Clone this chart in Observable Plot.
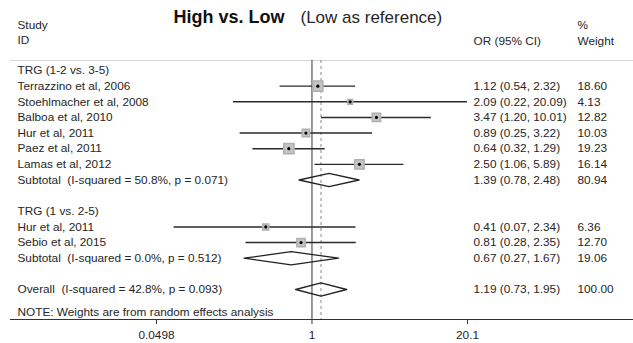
<!DOCTYPE html>
<html>
<head>
<meta charset="utf-8">
<script src="https://cdn.jsdelivr.net/npm/d3@7"></script>
<script src="https://cdn.jsdelivr.net/npm/@observablehq/plot@0.6"></script>
<style>
  html, body { margin: 0; padding: 0; background: #fff; }
</style>
</head>
<body>
<div id="chart"></div>
<script>
// ---- data ----
const groupLabels = ["TRG (1-2 vs. 3-5)", "TRG (1 vs. 2-5)"];
const studyNames = ["Terrazzino et al, 2006", "Stoehlmacher et al, 2008", "Balboa et al, 2010", "Hur et al, 2011", "Paez et al, 2011", "Lamas et al, 2012", "Hur et al, 2011", "Sebio et al, 2015"];
const studyGroup = [0, 0, 0, 0, 0, 0, 1, 1];
const studyOR = [1.12, 2.09, 3.47, 0.89, 0.64, 2.50, 0.41, 0.81];
const studyLo = [0.54, 0.22, 1.20, 0.25, 0.32, 1.06, 0.07, 0.28];
const studyHi = [2.32, 20.09, 10.01, 3.22, 1.29, 5.89, 2.34, 2.35];
const studyWeight = [18.60, 4.13, 12.82, 10.03, 19.23, 16.14, 6.36, 12.70];

const subtotalLabels = ["Subtotal  (I-squared = 50.8%, p = 0.071)", "Subtotal  (I-squared = 0.0%, p = 0.512)"];
const subtotalOR = [1.39, 0.67];
const subtotalLo = [0.78, 0.27];
const subtotalHi = [2.48, 1.67];
const subtotalWeight = [80.94, 19.06];

const overallLabel = "Overall  (I-squared = 42.8%, p = 0.093)";
const overallOR = 1.19, overallLo = 0.73, overallHi = 1.95, overallWeight = 100.00;

const noteText = "NOTE: Weights are from random effects analysis";
const tickValues = [0.0498, 1, 20.1];
const tickLabels = ["0.0498", "1", "20.1"];
const titleBold = "High vs. Low";
const titleRest = "(Low as reference)";

// ---- build row order ----
let row = 0;
const headers = [], studies = [], pooled = [];
groupLabels.forEach((g, gi) => {
  row += 1; headers.push({label: g, row});
  studyNames.forEach((s, i) => {
    if (studyGroup[i] !== gi) return;
    row += 1;
    studies.push({label: s, or: studyOR[i], lo: studyLo[i], hi: studyHi[i], weight: studyWeight[i], row});
  });
  row += 1;
  pooled.push({label: subtotalLabels[gi], or: subtotalOR[gi], lo: subtotalLo[gi], hi: subtotalHi[gi], weight: subtotalWeight[gi], row});
  row += 1; // blank spacer row
});
row += 1;
pooled.push({label: overallLabel, or: overallOR, lo: overallLo, hi: overallHi, weight: overallWeight, row});
const lastRow = row;

const allRows = [...headers, ...studies, ...pooled];
const estRows = [...studies, ...pooled];

const dh = 0.42;
const diamonds = pooled.flatMap((d, i) => [
  {x: d.lo, y: d.row, k: i},
  {x: d.or, y: d.row - dh, k: i},
  {x: d.hi, y: d.row, k: i},
  {x: d.or, y: d.row + dh, k: i},
  {x: d.lo, y: d.row, k: i}
]);

const fmt = v => v.toFixed(2);
const ink = "#262626";
const hdr = {textAnchor: "start", lineAnchor: "middle", fill: ink};

const chart = Plot.plot({
  width: 633,
  height: 343,
  marginLeft: 10,
  marginRight: 0,
  marginTop: 60,
  marginBottom: 24,
  style: {fontFamily: "'Liberation Sans', Arial, sans-serif", fontSize: "11.8px", color: ink, background: "#fff"},
  x: {type: "log", domain: [tickValues[0], tickValues[2]], range: [156, 467]},
  y: {domain: [1, lastRow], range: [70, 289], axis: null},
  r: {type: "sqrt", domain: [0, 100], range: [0, 13.2]},
  marks: [
    Plot.frame({anchor: "top", stroke: "#d8d8d8"}),
    Plot.frame({anchor: "bottom", stroke: "#333"}),
    Plot.ruleX([1], {stroke: "#333", strokeWidth: 1}),
    Plot.ruleX([overallOR], {stroke: "#888", strokeWidth: 1, strokeDasharray: "3,3"}),
    Plot.ruleY(studies, {y: "row", x1: "lo", x2: "hi", stroke: "#2a2a2a", strokeWidth: 1.4}),
    Plot.dot(studies, {x: "or", y: "row", r: "weight", symbol: "square", fill: "#c4c4c4", stroke: "#b0b0b0"}),
    Plot.dot(studies, {x: "or", y: "row", r: 1.6, fill: "#000"}),
    Plot.line(diamonds, {x: "x", y: "y", z: "k", stroke: "#222", strokeWidth: 1.3, curve: "linear"}),
    Plot.axisX({ticks: tickValues, tickFormat: () => "", tickSize: 5, label: null, stroke: "#333"}),
    Plot.text(tickValues, {x: d => d, text: (d, i) => tickLabels[i], frameAnchor: "bottom", dy: 16, lineAnchor: "middle", textAnchor: "middle", fill: ink}),
    // left labels
    Plot.text(allRows, {y: "row", text: "label", frameAnchor: "left", dx: 7, ...hdr}),
    Plot.text([noteText], {text: d => d, frameAnchor: "bottom-left", dx: 7, dy: -7, ...hdr}),
    // right columns
    Plot.text(estRows, {y: "row", text: d => `${fmt(d.or)} (${fmt(d.lo)}, ${fmt(d.hi)})`, frameAnchor: "right", dx: -160, ...hdr}),
    Plot.text(estRows, {y: "row", text: d => fmt(d.weight), frameAnchor: "right", dx: -56, ...hdr}),
    // headers
    Plot.text(["Study"], {text: d => d, frameAnchor: "top-left", dx: 7, dy: -35, ...hdr}),
    Plot.text(["ID"], {text: d => d, frameAnchor: "top-left", dx: 7, dy: -20, ...hdr}),
    Plot.text(["OR (95% CI)"], {text: d => d, frameAnchor: "top-right", dx: -160, dy: -19, ...hdr}),
    Plot.text(["%"], {text: d => d, frameAnchor: "top-right", dx: -56, dy: -35, ...hdr}),
    Plot.text(["Weight"], {text: d => d, frameAnchor: "top-right", dx: -56, dy: -19, ...hdr}),
    Plot.text([titleBold], {text: d => d, frameAnchor: "top-left", dx: 163, dy: -43, ...hdr, fontSize: 18, fontWeight: "bold", fill: "#111"}),
    Plot.text([titleRest], {text: d => d, frameAnchor: "top-left", dx: 290, dy: -43, ...hdr, fontSize: 17})
  ]
});
document.getElementById("chart").appendChild(chart);
</script>
</body>
</html>
